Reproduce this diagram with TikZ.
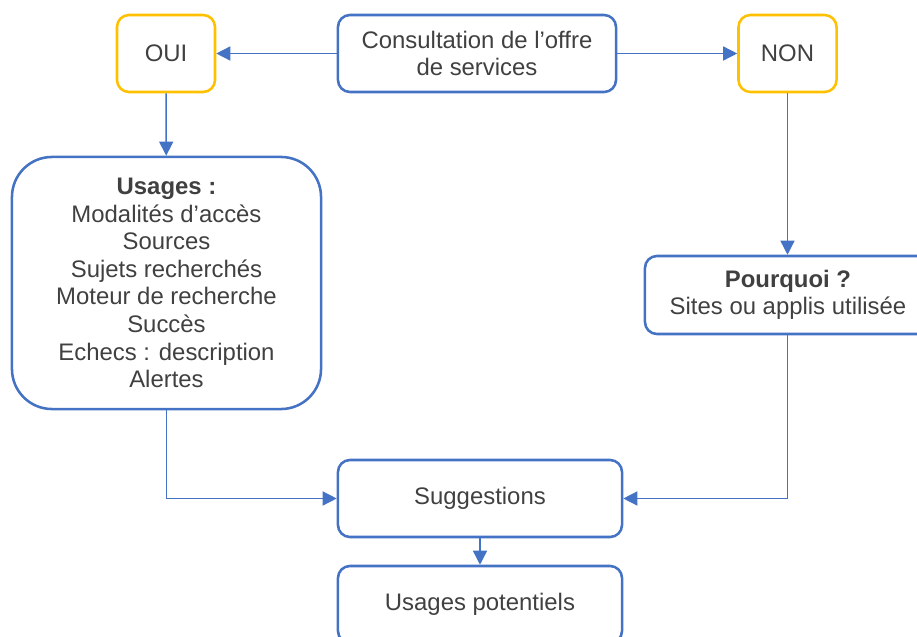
\documentclass[tikz,border=0pt]{standalone}
\usepackage{fontspec}
\setmainfont{Liberation Sans}
\usetikzlibrary{arrows.meta}
\definecolor{boxblue}{HTML}{4472C4}
\definecolor{boxyellow}{HTML}{FFC000}
\definecolor{txtgray}{HTML}{404040}

\begin{document}
\begin{tikzpicture}[x=0.025cm, y=-0.025cm,
	box/.style={draw=boxblue, line width=1.8pt, rounded corners=0.3cm, align=center, text=txtgray, font=\fontsize{17}{19.6}\selectfont, inner sep=0pt},
	answer/.style={box, draw=boxyellow, minimum width=2.45cm, minimum height=1.925cm},
	link/.style={draw=boxblue, line width=1pt, -{Triangle[length=0.35cm, width=0.35cm]}}]
	\useasboundingbox (0,0) rectangle (917,637);

	\node [box, minimum width=6.95cm, minimum height=1.925cm] (consult) at (477,53.5) {Consultation de l’offre\\de services};
	\node [answer] (oui) at (166,53.5) {OUI};
	\node [answer] (non) at (787.5,53.5) {NON};
	\node [box, rounded corners=1cm, minimum width=7.725cm, minimum height=6.3cm] (usages) at (166.5,283) {\textbf{Usages :}\\Modalités d’accès\\Sources\\Sujets recherchés\\Moteur de recherche\\Succès\\Echecs : description\\Alertes};
	\node [box, minimum width=7.15cm, minimum height=1.95cm] (pourquoi) at (788,295) {\textbf{Pourquoi ?}\\Sites ou applis utilisée};
	\node [box, minimum width=7.1cm, minimum height=1.925cm] (sugg) at (480,498.5) {Suggestions};
	\node [box, minimum width=7.1cm, minimum height=1.925cm] (potentiels) at (480,604.5) {Usages potentiels};

	\draw [link] (consult) -- (oui);
	\draw [link] (consult) -- (non);
	\draw [link] (oui) -- (usages);
	\draw [link] (non) -- (non |- pourquoi.north);
	\draw [link] (usages) |- (sugg);
	\draw [link] (non |- pourquoi.south) |- (sugg);
	\draw [link] (sugg) -- (potentiels);
\end{tikzpicture}
\end{document}
